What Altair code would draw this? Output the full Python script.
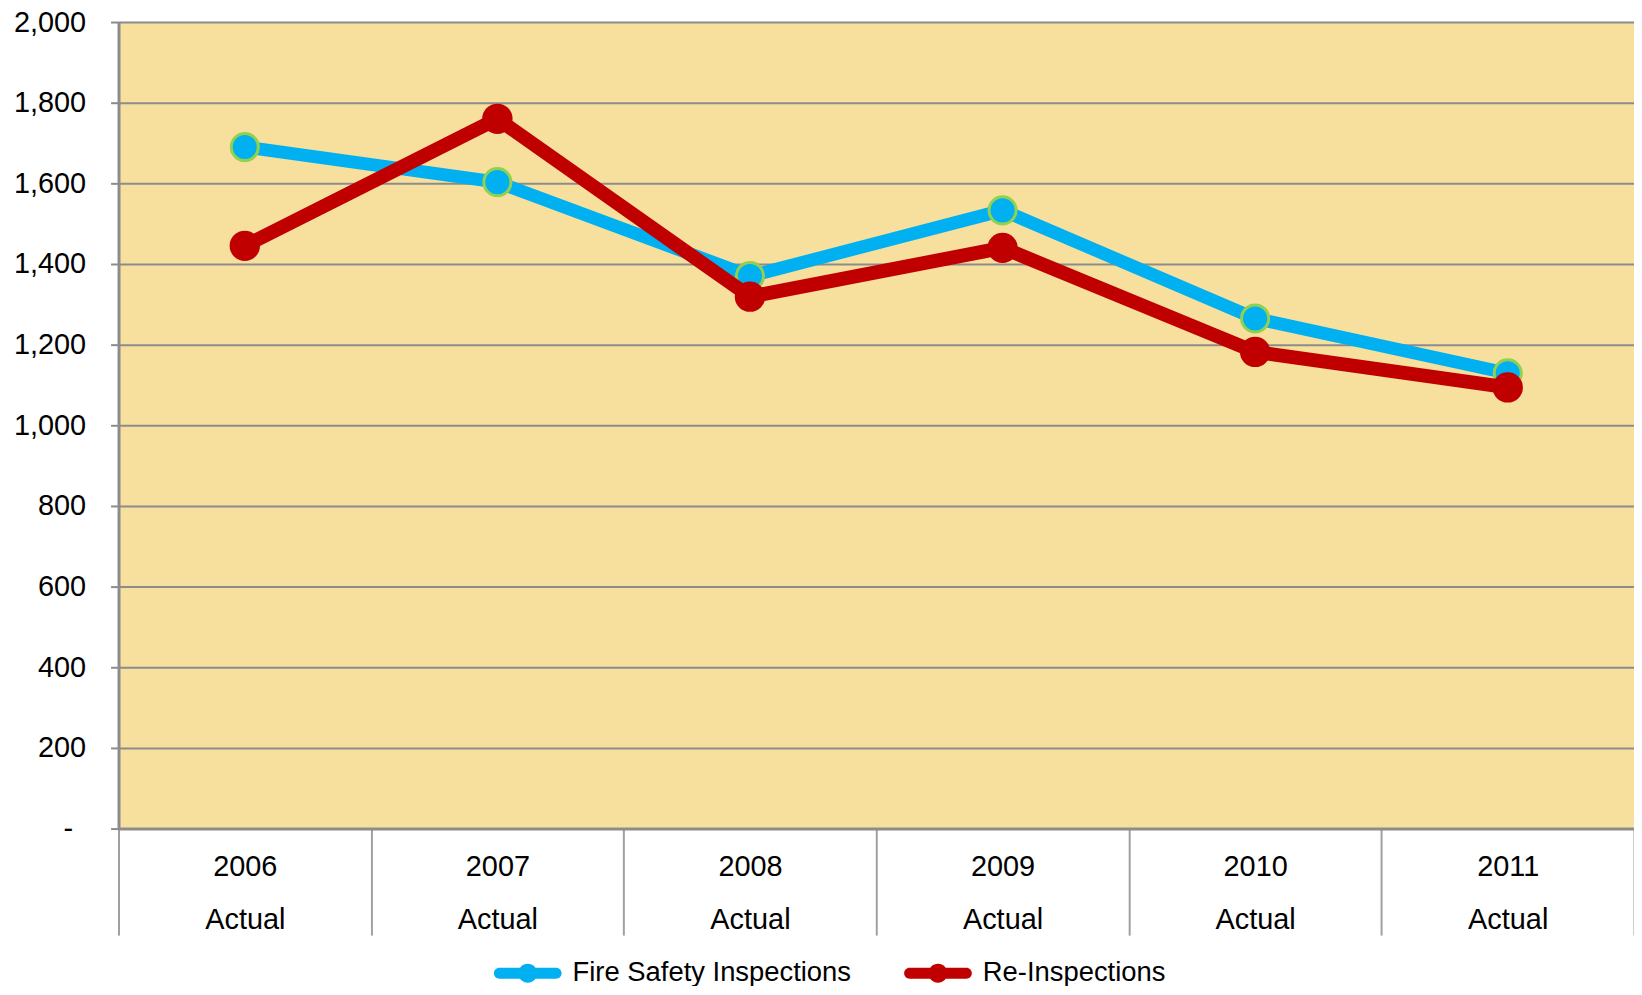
import altair as alt
import pandas as pd

years = ["2006", "2007", "2008", "2009", "2010", "2011"]
fire_safety = [1690, 1603, 1370, 1533, 1265, 1129]
re_inspections = [1445, 1760, 1319, 1440, 1182, 1094]
series_names = ["Fire Safety Inspections", "Re-Inspections"]
series_colors = ["#00B0F0", "#C00000"]
y_ticks = [0, 200, 400, 600, 800, 1000, 1200, 1400, 1600, 1800, 2000]

rows = []
for name, vals in zip(series_names, [fire_safety, re_inspections]):
    for yr, v in zip(years, vals):
        rows.append({"year": yr, "value": v, "series": name})
df = pd.DataFrame(rows)

FONT = "Liberation Sans"
GRAY = "#8C8C8C"

x_enc = alt.X(
    "year:N",
    sort=years,
    title=None,
    scale=alt.Scale(paddingInner=0, paddingOuter=0),
    axis=alt.Axis(
        orient="bottom",
        labelAngle=0,
        labelExpr="datum.label ? [datum.label, 'Actual'] : ''",
        labelLineHeight=53,
        labelBaseline="middle",
        labelPadding=-69,
        labelFontSize=29,
        labelFont=FONT,
        labelColor="#000000",
        domainColor=GRAY,
        domainWidth=3,
        tickBand="extent",
        tickSize=107,
        tickWidth=2,
        tickColor="#A0A0A0",
        grid=False,
    ),
)

y_enc = alt.Y(
    "value:Q",
    title=None,
    scale=alt.Scale(domain=[0, 2000], nice=False, zero=True),
    axis=alt.Axis(
        values=y_ticks,
        labelExpr="datum.value == 0 ? '-' : format(datum.value, ',.0f')",
        labelFontSize=29,
        labelFont=FONT,
        labelColor="#000000",
        labelPadding={"condition": {"test": "datum.value == 0", "value": 38}, "value": 25},
        domainColor=GRAY,
        domainWidth=3,
        tickColor=GRAY,
        tickSize=8,
        tickWidth=2,
        grid=True,
        gridColor=GRAY,
        gridWidth=2,
    ),
)

legend_path = (
    "M-0.838,-0.162 L0.838,-0.162 A0.162,0.162 0 0,1 0.838,0.162 "
    "L-0.838,0.162 A0.162,0.162 0 0,1 -0.838,-0.162 Z "
    "M-0.28,0 A0.28,0.28 0 1,1 0.28,0 A0.28,0.28 0 1,1 -0.28,0 Z"
)

legend = alt.Legend(
    title=None,
    orient="none",
    legendX=377,
    legendY=921,
    direction="horizontal",
    symbolType=legend_path,
    symbolSize=4624,
    symbolStrokeWidth=0,
    symbolOpacity=1,
    labelFontSize=27.5,
    labelFont=FONT,
    labelColor="#000000",
    labelOffset=11,
    labelLimit=600,
    columnPadding=53,
    padding=0,
)

color_scale = alt.Scale(domain=series_names, range=series_colors)

layers = []
for name in series_names:
    sub = alt.Chart(df).transform_filter(alt.datum.series == name)
    lw = 13 if name == series_names[0] else 14
    line = sub.mark_line(strokeWidth=lw, strokeJoin="round").encode(
        x=x_enc, y=y_enc,
        color=alt.Color("series:N", scale=color_scale, legend=legend),
    )
    if name == series_names[0]:
        pt = sub.mark_circle(size=740, opacity=1,
                             stroke="#92D050", strokeWidth=3)
    else:
        pt = sub.mark_circle(size=930, opacity=1, strokeWidth=0)
    pt = pt.encode(
        x=x_enc, y=y_enc,
        color=alt.Color("series:N", scale=color_scale, legend=legend),
    )
    layers += [line, pt]

chart = (
    alt.layer(*layers)
    .properties(
        width=1522,
        height=810,
        autosize=alt.AutoSizeParams(type="none"),
        padding={"left": 111, "top": 12, "right": 0, "bottom": 156},
        background="#FFFFFF",
    )
    .configure_view(fill="#F7E09E", stroke="transparent")
)

chart.save("out.html", embed_options={"renderer": "svg", "actions": False})
